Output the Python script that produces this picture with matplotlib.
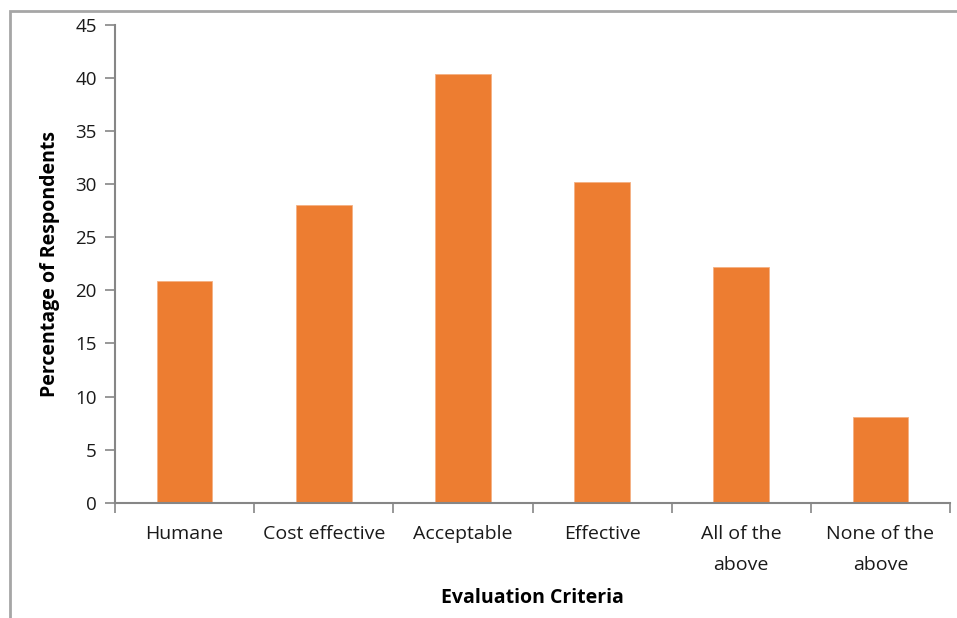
import matplotlib.pyplot as plt
from matplotlib.patches import Rectangle
from matplotlib.ticker import FixedLocator

criteria = ["Humane", "Cost effective", "Acceptable", "Effective",
            "All of the\nabove", "None of the\nabove"]
percentages = [20.9, 28.0, 40.4, 30.2, 22.2, 8.1]
y_ticks = list(range(0, 50, 5))

bar_color = "#ED7D31"
axis_color = "#868686"
text_color = "#1a1a1a"

plt.rcParams["font.family"] = ["Open Sans", "DejaVu Sans"]

fig = plt.figure(figsize=(9.57, 6.18), dpi=100)
ax = fig.add_axes([115 / 957, 1 - 502.7 / 618, (950 - 115) / 957, (502.7 - 25) / 618])

positions = list(range(len(criteria)))
ax.bar(positions, percentages, width=0.4, color=bar_color, edgecolor="#F4B183", linewidth=0.6)

ax.set_xlim(-0.5, len(criteria) - 0.5)
ax.set_ylim(0, 45)
ax.set_yticks(y_ticks)
ax.set_yticklabels([str(v) for v in y_ticks], fontsize=13.5, color=text_color)

# major ticks sit between categories, labels go on minor ticks at the centers
ax.xaxis.set_major_locator(FixedLocator([p - 0.5 for p in positions] + [len(criteria) - 0.5]))
ax.xaxis.set_major_formatter(plt.NullFormatter())
ax.set_xticks(positions, minor=True)
ax.set_xticklabels(criteria, minor=True, fontsize=14, color=text_color, linespacing=1.9, va="top")
ax.tick_params(axis="x", which="minor", length=0, pad=16)
ax.tick_params(axis="x", which="major", length=7, width=1.2, color=axis_color, direction="out")
ax.tick_params(axis="y", length=7, width=1.2, color=axis_color, direction="out", pad=6)

for side in ("top", "right"):
    ax.spines[side].set_visible(False)
for side in ("left", "bottom"):
    ax.spines[side].set_color(axis_color)
    ax.spines[side].set_linewidth(1.5)

ax.set_ylabel("Percentage of Respondents", fontsize=14, fontweight="bold", color="black", labelpad=11)
fig.text(532 / 957, 1 - 598 / 618, "Evaluation Criteria", fontsize=14, fontweight="bold",
         ha="center", va="center", color="black")

# chart area frame, runs off the right and bottom edges
fig.patches.append(Rectangle((10 / 957, -0.05), 1.0, 1 - 11 / 618 + 0.05,
                             transform=fig.transFigure, fill=False,
                             edgecolor="#A6A6A6", linewidth=2))

fig.savefig("out.png", dpi=100)
